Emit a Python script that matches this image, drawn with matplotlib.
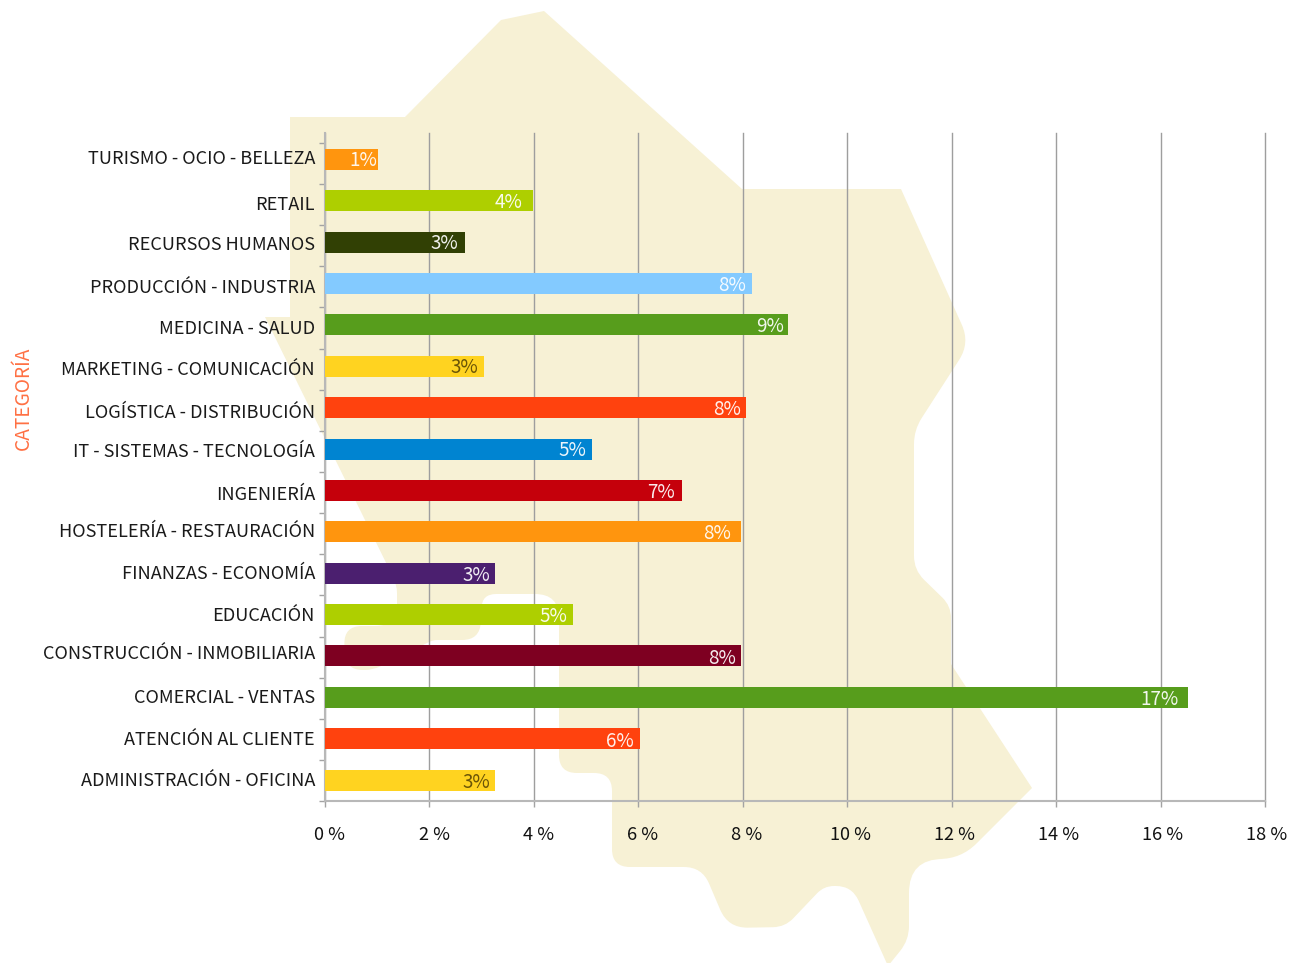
import numpy as np
import matplotlib
matplotlib.use("Agg")
import matplotlib.pyplot as plt
from matplotlib.path import Path
from matplotlib.patches import PathPatch
from matplotlib.transforms import Affine2D

plt.rcParams['font.family'] = ['Noto Sans CJK JP', 'DejaVu Sans']

categories = ["ADMINISTRACIÓN - OFICINA", "ATENCIÓN AL CLIENTE", "COMERCIAL - VENTAS",
              "CONSTRUCCIÓN - INMOBILIARIA", "EDUCACIÓN", "FINANZAS - ECONOMÍA",
              "HOSTELERÍA - RESTAURACIÓN", "INGENIERÍA", "IT - SISTEMAS - TECNOLOGÍA",
              "LOGÍSTICA - DISTRIBUCIÓN", "MARKETING - COMUNICACIÓN", "MEDICINA - SALUD",
              "PRODUCCIÓN - INDUSTRIA", "RECURSOS HUMANOS", "RETAIL", "TURISMO - OCIO - BELLEZA"]
values = [3.26, 6.03, 16.53, 7.97, 4.75, 3.26, 7.97, 6.84, 5.11, 8.06, 3.04, 8.87, 8.18, 2.68, 3.98, 1.01]
colors = ["#FFD320", "#FF420E", "#579D1C", "#7E0021", "#AECF00", "#4B1F6F", "#FF950E", "#C5000B",
          "#0084D1", "#FF420E", "#FFD320", "#579D1C", "#83CAFF", "#314004", "#AECF00", "#FF950E"]
label_colors = ["#5E4A05", "w", "w", "w", "w", "w", "w", "w", "w", "w", "#5E4A05", "w", "w", "w", "w", "w"]
xticks = [0, 2, 4, 6, 8, 10, 12, 14, 16, 18]

# layout, in pixels
W, H = 1300, 963
label_gap = [5, 6, 10, 5, 6, 5, 10, 7, 6, 5, 6, 4, 6, 7, 10, 0]
name_y = [779, 738, 696, 652, 614, 572, 530, 493, 450, 411, 368, 327, 286, 243, 203, 157]
value_y = [780, 739, 697, 656, 614, 573, 531, 490, 448, 407, 365, 324, 283, 241, 200, 158]

# background map outline: x, y, corner radius
outline = [(290, 117, 0), (405, 117, 0), (501, 20, 0), (544, 11, 0), (742, 189, 0), (901, 189, 0),
           (970, 343, 20), (914, 430, 14), (914, 570, 14), (951, 606, 12), (951, 664, 0),
           (1032, 788, 0), (961, 859, 22), (909, 859, 34), (909, 940, 14), (888, 966, 0),
           (852, 886, 16), (824, 886, 10), (785, 927, 12), (728, 928, 20), (702, 867, 18),
           (612, 867, 18), (612, 773, 18), (559, 773, 18), (559, 594, 24), (482, 594, 14),
           (480, 640, 18), (433, 640, 4), (373, 670, 8), (345, 670, 18), (344, 626, 18),
           (397, 626, 22), (397, 585, 8), (265, 317, 0), (290, 317, 0)]


def rounded_path(points):
    verts, codes = [], []
    n = len(points)
    for i, (x, y, r) in enumerate(points):
        p = np.array([x, y], float)
        if r == 0:
            verts.append(p)
            codes.append(Path.LINETO)
            continue
        a = np.array(points[i - 1][:2], float) - p
        b = np.array(points[(i + 1) % n][:2], float) - p
        verts += [p + a / np.linalg.norm(a) * r, p, p + b / np.linalg.norm(b) * r]
        codes += [Path.LINETO, Path.CURVE3, Path.CURVE3]
    codes[0] = Path.MOVETO
    verts.append(verts[0])
    codes.append(Path.CLOSEPOLY)
    return Path(verts, codes)


fig = plt.figure(figsize=(W / 100, H / 100), dpi=100)
px = Affine2D().scale(1 / W, -1 / H).translate(0, 1) + fig.transFigure
fig.patches.append(PathPatch(rounded_path(outline), transform=px, fc="#F7F1D5", ec="none", zorder=-5))

ax = fig.add_axes([325 / W, 1 - 801 / H, 940 / W, 668 / H])
ax.patch.set_visible(False)

# bars are a touch wider spaced than the ticks in the original
bar_step = 41.37
tick_step = 41.125
y = np.arange(len(categories))
ymin = -21 / bar_step
ax.set_xlim(0, 18)
ax.set_ylim(ymin, ymin + 668 / bar_step)
ax.barh(y, values, height=21 / bar_step, color=colors, zorder=3)

ax.set_xticks(xticks)
ax.set_xticklabels([])
ax.set_yticks(ymin + np.arange(len(categories) + 1) * tick_step / bar_step)
ax.set_yticklabels([])
ax.grid(axis="x", color="#9E9E9E", lw=1.0, zorder=1, clip_on=False)
ax.set_axisbelow(True)
ax.tick_params(axis="both", length=4.3, width=1.0, color="#A3A3A3")
for s in ["top", "right"]:
    ax.spines[s].set_visible(False)
for s in ["left", "bottom"]:
    ax.spines[s].set_color("#B8B8B8")
    ax.spines[s].set_linewidth(1.5)

for t in xticks:
    fig.text(330 + t * 52.05, 833, f"{t} %", transform=px, ha="center", va="center_baseline", fontsize=13.1, color="#111111")

for name, ny in zip(categories, name_y):
    fig.text(315, ny, name, transform=px, ha="right", va="center_baseline", fontsize=13.05, color="#1A1A1A")

for v, gap, vy, c in zip(values, label_gap, value_y, label_colors):
    xpx = 325 + v * 940 / 18 - gap
    fig.text(xpx, vy, f"{round(v)}%", transform=px, ha="right", va="center_baseline", fontsize=13.6, color=c, alpha=0.92, zorder=10)

fig.text(23, 398, "CATEGORÍA", transform=px, rotation=90, ha="center", va="center", fontsize=13.8, color="#FF7043")

fig.savefig("out.png", dpi=100)
